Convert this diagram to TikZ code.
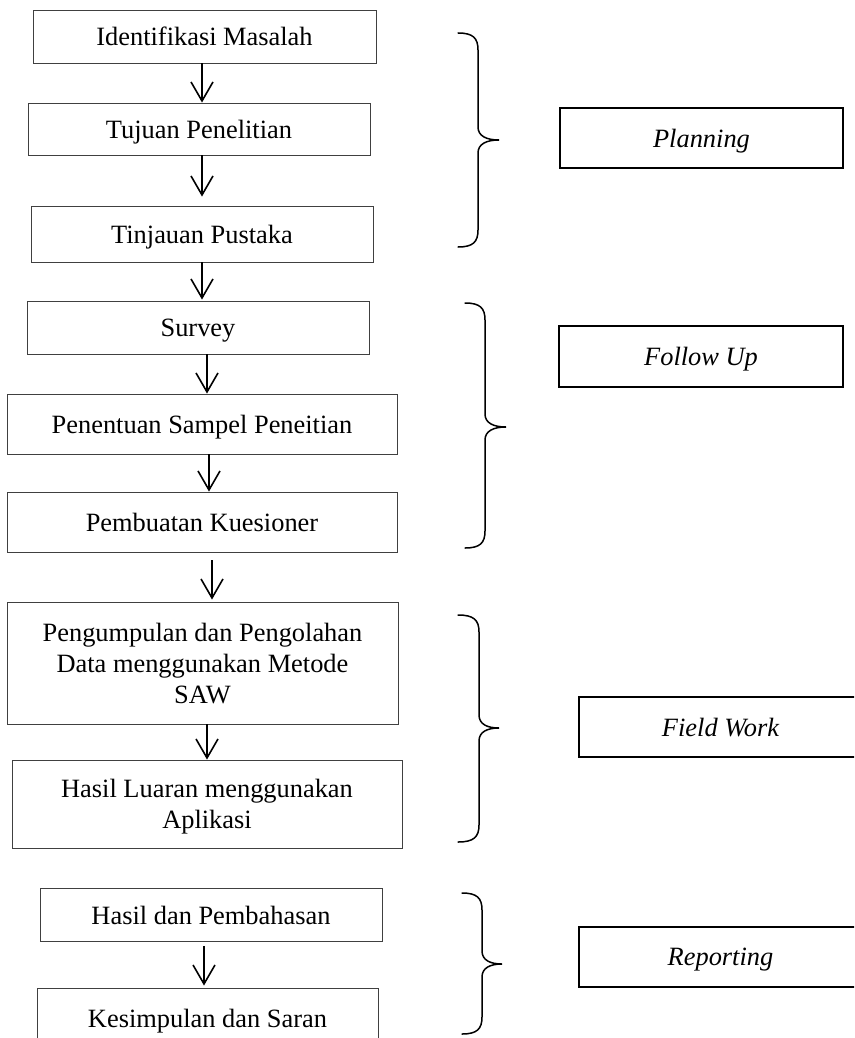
\documentclass[tikz,border=0pt]{standalone}
\usepackage{fontspec}
\setmainfont{Liberation Serif}
\usetikzlibrary{arrows.meta}
\tikzset{
  leftbox/.style={draw=black!75, line width=0.9pt, inner sep=0pt, align=center, text depth=0pt, font=\fontsize{26.4}{31}\selectfont},
  rightbox/.style={draw=black, line width=1.8pt, inner sep=0pt, align=center, text depth=0pt, font=\fontsize{26.4}{31}\selectfont\itshape},
  arr/.style={line width=1.6pt, -{Straight Barb[length=19pt,width=22pt]}},
  bracestyle/.style={line width=1.5pt, line cap=round}
}
\newcommand{\mybrace}[6]{% xt, xv, xtip, yt, ym, yb
  \draw[bracestyle] (#1,#4) .. controls ({#1+0.75*(#2-#1)},#4) and (#2,{#4+5}) .. (#2,{#4+17})
    -- (#2,{#5-13}) .. controls (#2,{#5-4}) and ({#2+0.4*(#3-#2)},#5) .. (#3,#5)
    .. controls ({#2+0.4*(#3-#2)},#5) and (#2,{#5+4}) .. (#2,{#5+13})
    -- (#2,{#6-17}) .. controls (#2,{#6-5}) and ({#1+0.75*(#2-#1)},#6) .. (#1,#6);}
\begin{document}
\begin{tikzpicture}[x=1pt,y=-1pt]
\clip (0,0) rectangle (854,1038);
\fill[white] (0,0) rectangle (854,1038);

% left flow
\node[leftbox, minimum width=343pt, minimum height=53pt] (B1) at (204.5,36.5) {Identifikasi Masalah};
\node[leftbox, minimum width=342pt, minimum height=52pt] (B2) at (199,129) {Tujuan Penelitian};
\node[leftbox, minimum width=342pt, minimum height=56pt] (B3) at (202,234) {Tinjauan Pustaka};
\node[leftbox, minimum width=342pt, minimum height=53pt] (B4) at (198,327.5) {Survey};
\node[leftbox, minimum width=390pt, minimum height=60pt] (B5) at (202,424) {Penentuan Sampel Peneitian};
\node[leftbox, minimum width=390pt, minimum height=60pt] (B6) at (202,522) {Pembuatan Kuesioner};
\node[leftbox, minimum width=391pt, minimum height=122pt] (B7) at (202.5,663) {Pengumpulan dan Pengolahan\\Data menggunakan Metode\\SAW};
\node[leftbox, minimum width=390pt, minimum height=88pt] (B8) at (207,804) {Hasil Luaran menggunakan\\Aplikasi};
\node[leftbox, minimum width=342pt, minimum height=53pt] (B9) at (211,915) {Hasil dan Pembahasan};
\node[leftbox, minimum width=341pt, minimum height=60pt] (B10) at (207.5,1018) {Kesimpulan dan Saran};

\draw[arr] ([xshift=-2.5pt]B1.south) -- ([xshift=3pt]B2.north);
\draw[arr] ([xshift=3pt]B2.south) -- ([yshift=9pt]B3.north);
\draw[arr] (B3.south) -- ([xshift=4pt,yshift=1pt]B4.north);
\draw[arr] ([xshift=9pt]B4.south) -- ([xshift=5pt]B5.north);
\draw[arr] ([xshift=7pt]B5.south) -- ([xshift=7pt]B6.north);
\draw[arr] ([xshift=10pt,yshift=-8pt]B6.south) -- ([xshift=9.5pt,yshift=2pt]B7.north);
\draw[arr] ([xshift=4.5pt]B7.south) -- (B8.north);
\draw[arr] ([xshift=-7pt,yshift=-4pt]B9.south) -- ([xshift=-3.5pt,yshift=2pt]B10.north);

% right phase boxes
\node[rightbox, minimum width=283pt, minimum height=60pt] (P) at (701.5,138) {Planning};
\node[rightbox, minimum width=284pt, minimum height=61pt] (F) at (701,356.5) {Follow Up};
\node[rightbox, minimum width=283pt, minimum height=60pt] (W) at (720.5,727) {Field Work};
\node[rightbox, minimum width=283pt, minimum height=60pt] (R) at (720.5,957) {Reporting};

% braces
\mybrace{458}{478}{499}{33}{140}{247}
\mybrace{465}{485}{506}{303}{427}{548}
\mybrace{458}{479}{499}{615}{728}{842}
\mybrace{462}{482}{502}{893}{964}{1034}
\end{tikzpicture}
\end{document}
